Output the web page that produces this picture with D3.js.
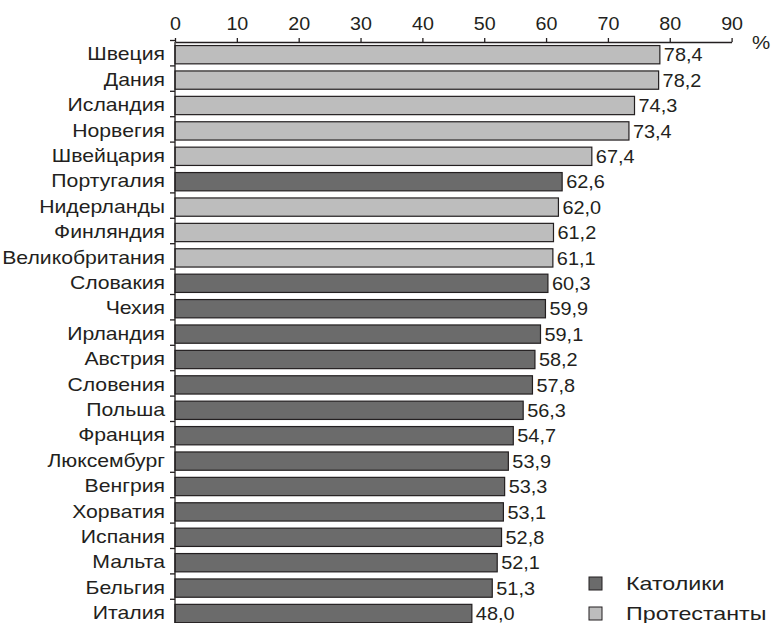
<!DOCTYPE html>
<html><head><meta charset="utf-8">
<script src="https://cdn.jsdelivr.net/npm/d3@7"></script>
<style>body{margin:0;background:#fff}svg{display:block}text{font-family:"Liberation Sans",Arial,sans-serif;fill:#231f20}</style>
</head><body><svg id="c" width="771" height="623"></svg>
<script>
const countries = ["Швеция","Дания","Исландия","Норвегия","Швейцария","Португалия","Нидерланды","Финляндия","Великобритания","Словакия","Чехия","Ирландия","Австрия","Словения","Польша","Франция","Люксембург","Венгрия","Хорватия","Испания","Мальта","Бельгия","Италия"];
const values = [78.4,78.2,74.3,73.4,67.4,62.6,62.0,61.2,61.1,60.3,59.9,59.1,58.2,57.8,56.3,54.7,53.9,53.3,53.1,52.8,52.1,51.3,48.0];
const religion = ["П","П","П","П","П","К","П","П","П","К","К","К","К","К","К","К","К","К","К","К","К","К","К"];
const legendLabels = ["Католики","Протестанты"];
const legendKeys = ["К","П"];
const xTicks = [0,10,20,30,40,50,60,70,80,90];

const svg = d3.select("#c");
const x = d3.scaleLinear().domain([0,90]).range([175,731.6]);
const y = d3.scaleBand().domain(countries).range([42,42+23*25.4]).paddingInner(0.28).paddingOuter(0.14);
const color = d3.scaleOrdinal().domain(["К","П"]).range(["#6b6b6b","#bdbdbd"]);
const fmt = v => v.toFixed(1).replace(".", ",");
const FS = 18.6;

// bars
svg.append("g").selectAll("rect").data(countries).join("rect")
  .attr("x", x(0)).attr("y", d => y(d))
  .attr("width", (d,i) => x(values[i]) - x(0)).attr("height", y.bandwidth())
  .attr("fill", (d,i) => color(religion[i])).attr("stroke", "#231f20").attr("stroke-width", 1.2);

// value labels
svg.append("g").selectAll("text").data(countries).join("text")
  .attr("transform", (d,i) => `translate(${x(values[i]) + 4},${y(d) + y.bandwidth()/2}) scale(1.07,1)`)
  .attr("dy", "0.36em").attr("font-size", FS).text((d,i) => fmt(values[i]));

// top axis
const ax = svg.append("g").attr("transform", "translate(0,42)")
  .call(d3.axisTop(x).tickValues(xTicks).tickSize(4).tickSizeOuter(0).tickPadding(8));
ax.select(".domain").attr("stroke", "#231f20").attr("stroke-width", 1.3);
ax.selectAll(".tick line").attr("stroke", "#231f20").attr("stroke-width", 1.3);
ax.selectAll(".tick text").attr("font-size", FS).attr("font-family", "Liberation Sans, Arial, sans-serif").attr("fill", "#231f20")
  .attr("transform", "scale(1.06,1)");
svg.append("text").attr("transform", "translate(752,49) scale(1.1,1)").attr("font-size", FS).text("%");

// y axis line and ticks
svg.append("line").attr("x1", x(0)).attr("x2", x(0)).attr("y1", 42).attr("y2", 623).attr("stroke", "#231f20").attr("stroke-width", 1.3);
svg.append("g").selectAll("line").data(countries).join("line")
  .attr("x1", x(0) - 5).attr("x2", x(0)).attr("y1", d => y(d) - y.step()*y.paddingInner()/2 - 1.5).attr("y2", d => y(d) - y.step()*y.paddingInner()/2 - 1.5)
  .attr("stroke", "#231f20").attr("stroke-width", 1.3);

// category labels
svg.append("g").selectAll("text").data(countries).join("text")
  .attr("transform", d => `translate(165,${y(d) + y.bandwidth()/2 - 1}) scale(1.14,1)`)
  .attr("dy", "0.36em").attr("text-anchor", "end").attr("font-size", FS).text(d => d);

// legend
const lg = svg.append("g").selectAll("g").data(legendKeys).join("g")
  .attr("transform", (d,i) => `translate(589,${577 + i*30})`);
lg.append("rect").attr("width", 13).attr("height", 13).attr("fill", d => color(d)).attr("stroke", "#231f20").attr("stroke-width", 1);
lg.append("text").attr("transform", "translate(37,6.5) scale(1.25,1)").attr("dy", "0.36em").attr("font-size", FS).text((d,i) => legendLabels[i]);
</script></body></html>
